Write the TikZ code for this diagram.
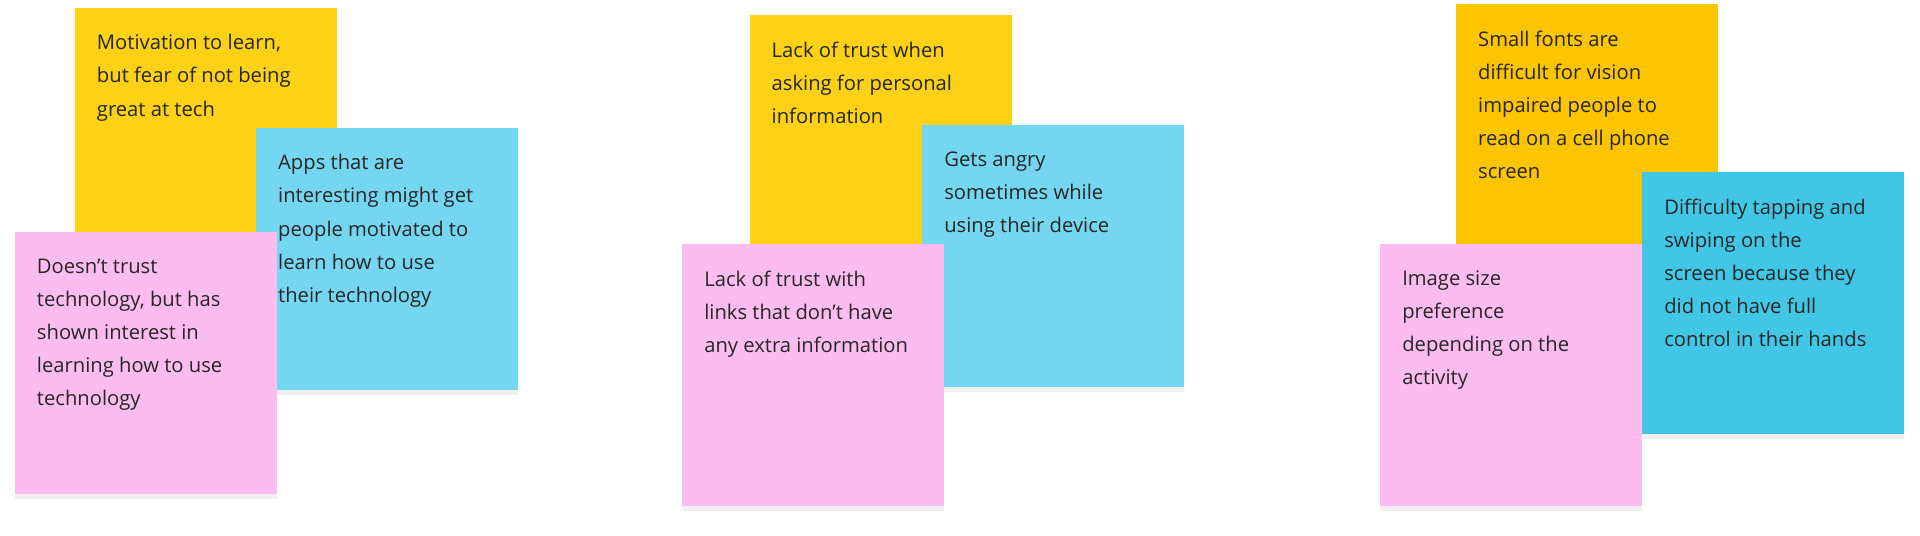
\documentclass[tikz,border=0pt]{standalone}
\usepackage{fontspec}
\setmainfont{Open Sans}
\usetikzlibrary{shadows}
\definecolor{noteyellow}{HTML}{FCD116}
\definecolor{noteorange}{HTML}{FCC500}
\definecolor{noteblue}{HTML}{74D6F0}
\definecolor{notecyan}{HTML}{41C7E5}
\definecolor{notepink}{HTML}{FDBCF0}
\tikzset{
  sticky/.style={draw=none, minimum width=214pt, minimum height=214pt, anchor=north west,
    drop shadow={shadow xshift=0pt, shadow yshift=-4pt, opacity=0.06, fill=black}},
  memo/.style={anchor=north west, align=left, inner sep=0pt,
    font=\fontsize{16.5}{27}\selectfont, text=black!85}
}
\begin{document}
\begin{tikzpicture}[x=1pt, y=-1pt]
  \useasboundingbox (0, 0) rectangle (1568, 437);
  % first cluster
  \node[sticky, fill=noteyellow] (motivation) at (61, 6) {};
  \node[memo] at ([shift={(18pt, -22pt)}]motivation.north west) {Motivation to learn,\\ but fear of not being\\ great at tech};
  \node[sticky, fill=noteblue] (apps) at (209, 104) {};
  \node[memo] at ([shift={(18pt, -22pt)}]apps.north west) {Apps that are\\ interesting might get\\ people motivated to\\ learn how to use\\ their technology};
  \node[sticky, fill=notepink] (distrust) at (12, 189) {};
  \node[memo] at ([shift={(18pt, -22pt)}]distrust.north west) {Doesn’t trust\\ technology, but has\\ shown interest in\\ learning how to use\\ technology};
  % second cluster
  \node[sticky, fill=noteyellow] (personal) at (612, 12) {};
  \node[memo] at ([shift={(18pt, -22pt)}]personal.north west) {Lack of trust when\\ asking for personal\\ information};
  \node[sticky, fill=noteblue] (angry) at (753, 102) {};
  \node[memo] at ([shift={(18pt, -22pt)}]angry.north west) {Gets angry\\ sometimes while\\ using their device};
  \node[sticky, fill=notepink] (links) at (557, 199) {};
  \node[memo] at ([shift={(18pt, -22pt)}]links.north west) {Lack of trust with\\ links that don’t have\\ any extra information};
  % third cluster
  \node[sticky, fill=noteorange] (fonts) at (1189, 3) {};
  \node[memo] at ([shift={(18pt, -22pt)}]fonts.north west) {Small fonts are\\ difficult for vision\\ impaired people to\\ read on a cell phone\\ screen};
  \node[sticky, fill=notepink] (imagesize) at (1127, 199) {};
  \node[memo] at ([shift={(18pt, -22pt)}]imagesize.north west) {Image size\\ preference\\ depending on the\\ activity};
  \node[sticky, fill=notecyan] (tapping) at (1341, 140) {};
  \node[memo] at ([shift={(18pt, -22pt)}]tapping.north west) {Difficulty tapping and\\ swiping on the\\ screen because they\\ did not have full\\ control in their hands};
\end{tikzpicture}
\end{document}
